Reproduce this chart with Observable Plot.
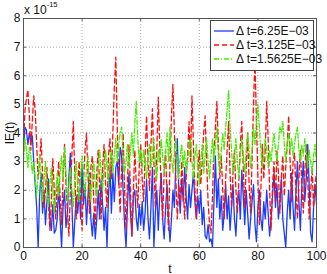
<!DOCTYPE html>
<html>
<head>
<meta charset="utf-8">
<script src="https://cdn.jsdelivr.net/npm/d3@7"></script>
<script src="https://cdn.jsdelivr.net/npm/@observablehq/plot@0.6"></script>
<style>
  html, body { margin: 0; padding: 0; background: #fff; }
  #wrap { position: relative; width: 327px; height: 274px; font-family: "Liberation Sans", Arial, sans-serif; }
  #exp { position: absolute; left: 24px; top: 2px; font-size: 12px; color: #111; white-space: nowrap; }
  #exp sup { font-size: 7.5px; position: relative; top: -2px; }
  #legend { position: absolute; left: 210px; top: 20px; width: 102px; height: 49px; border: 1px solid #444; background: #fff; font-size: 12px; color: #111; }
  .row { position: absolute; left: 2px; height: 14px; display: flex; align-items: center; white-space: nowrap; }
  .row svg { margin-right: 1px; }
</style>
</head>
<body>
<div id="wrap">
  <div id="chart"></div>
  <div id="exp">x 10<sup>-15</sup></div>
  <div id="legend"></div>
</div>
<script>
const t0 = 0, dt = 0.5;
const seriesNames = ["\u0394 t=6.25E\u221203", "\u0394 t=3.125E\u221203", "\u0394 t=1.5625E\u221203"];
const blue = [
  3.5,4.2,4.1,3.6,4.0,3.7,3.9,3.0,2.2,1.4,0.0,1.8,2.6,1.2,2.0,0.8,1.6,2.4,1.0,0.6,
  1.5,0.5,0.6,1.0,2.2,1.0,0.0,1.4,2.0,0.7,1.2,2.5,3.3,1.6,0.0,0.9,1.8,1.2,2.0,1.0,
  2.9,1.5,2.2,0.8,1.8,2.6,1.0,0.4,1.2,0.3,1.0,2.0,1.0,2.4,1.5,0.6,1.4,0.0,1.8,2.8,
  1.2,2.6,1.6,2.8,3.0,2.2,3.5,3.2,2.0,0.8,0.0,1.5,2.6,1.2,0.4,1.8,2.0,1.0,0.6,1.5,
  0.8,1.6,0.6,1.2,2.4,1.0,0.3,1.4,2.8,0.0,1.2,2.0,0.6,1.8,2.6,1.0,0.3,1.4,2.2,1.0,
  0.2,1.0,2.0,1.4,3.0,3.8,2.0,1.2,2.4,1.6,2.8,1.8,1.0,2.2,1.4,2.0,2.6,1.6,1.0,1.8,
  1.2,2.0,0.8,1.4,0.4,0.3,0.8,0.2,0.3,0.0,1.6,3.2,1.4,2.4,1.0,1.8,0.6,1.2,2.2,1.0,
  1.8,0.6,1.4,2.2,1.0,0.4,1.6,2.0,1.0,2.7,1.8,0.8,2.0,1.2,0.3,1.0,1.6,2.2,0.8,0.2,
  1.4,2.0,1.0,0.6,1.6,1.0,2.0,1.2,0.4,1.0,1.8,2.6,1.4,2.2,1.0,1.6,2.4,1.0,0.5,0.0,
  1.2,2.0,1.0,2.6,1.4,0.6,2.0,3.0,1.6,0.6,2.2,3.0,1.6,2.4,3.6,2.2,0.5,0.2,1.4,2.2,1.5
];
const red = [
  3.6,4.8,5.2,5.5,4.6,3.4,4.4,5.3,4.8,3.6,2.4,3.0,3.8,2.6,1.4,2.0,2.8,1.6,0.6,1.6,
  3.1,2.0,1.0,2.2,3.0,1.8,0.8,2.4,3.6,2.2,1.2,0.4,2.0,3.2,4.4,2.6,1.0,2.2,3.0,1.6,
  0.6,2.4,3.4,4.0,2.6,1.2,2.8,3.2,1.6,0.8,2.6,3.4,2.0,1.0,2.8,3.6,2.2,1.4,3.2,3.8,
  2.4,4.0,5.6,6.65,4.2,2.4,1.2,2.8,4.0,2.0,0.6,2.4,3.6,2.0,0.4,2.0,3.4,2.2,1.4,2.8,
  3.6,2.4,1.6,3.2,4.6,3.0,2.0,3.6,4.85,3.0,1.4,3.4,5.25,3.6,2.0,1.0,2.6,3.4,1.6,0.6,
  3.0,4.6,5.7,4.0,2.4,1.0,2.2,1.6,3.0,2.0,1.0,2.4,3.2,4.4,3.0,5.3,3.6,2.0,1.0,2.6,
  3.4,2.2,3.0,4.0,4.6,3.0,1.6,0.8,0.5,1.8,3.4,4.2,5.1,3.6,2.4,3.2,2.0,1.0,2.4,3.4,
  4.4,2.6,1.4,2.6,3.4,2.0,1.2,2.3,3.6,4.4,2.8,1.4,2.8,4.0,2.2,1.2,3.0,5.0,6.6,4.4,
  2.4,0.8,2.0,3.6,2.4,3.4,5.1,3.8,2.0,0.6,2.2,3.0,1.6,3.4,2.6,1.2,2.4,3.2,1.8,2.8,
  3.6,4.6,3.0,1.6,3.0,3.3,2.0,1.0,2.4,3.4,2.2,1.2,2.6,3.6,2.4,1.0,1.9,2.8,1.4,2.2,2.6
];
const green = [
  3.0,3.8,3.4,2.8,3.5,3.2,2.6,3.0,2.4,1.8,2.6,3.2,2.2,1.6,2.4,3.0,2.0,1.4,2.2,2.8,
  2.0,1.2,2.0,2.6,1.8,2.6,3.2,2.4,3.5,2.6,1.6,2.2,2.8,2.0,1.4,2.4,3.0,2.2,1.6,2.6,
  3.2,2.4,1.8,2.8,3.2,2.4,1.6,2.6,3.0,2.2,1.8,2.8,3.4,2.6,2.0,2.8,3.4,2.8,2.2,3.0,
  3.4,2.6,3.2,3.8,3.0,3.6,4.0,4.2,3.2,2.6,3.0,3.6,2.8,3.4,4.0,3.2,4.4,5.1,3.8,3.0,
  3.4,2.8,3.4,3.0,2.4,3.2,3.6,2.8,3.2,3.8,3.0,2.4,3.4,3.0,3.8,3.2,2.6,3.4,4.0,3.0,
  4.2,3.2,2.6,3.4,3.8,3.0,2.4,3.2,3.6,2.8,3.4,2.6,3.0,3.6,3.8,3.0,2.4,3.2,3.6,2.8,
  2.2,3.0,3.6,2.6,3.2,3.8,3.0,2.4,3.2,3.8,3.0,3.6,4.2,3.2,2.6,3.4,4.0,3.4,4.2,4.8,
  5.5,4.2,3.4,2.6,3.2,3.8,3.0,2.4,3.2,3.8,3.2,2.6,3.4,4.0,3.4,2.8,3.4,4.2,3.6,4.4,
  5.0,4.2,3.4,2.8,3.2,3.8,3.4,2.8,3.4,3.0,3.6,4.0,3.4,3.0,3.6,4.2,4.0,4.4,3.6,3.0,
  3.6,4.0,3.4,3.8,3.2,3.6,4.0,4.2,3.4,3.0,3.6,3.2,3.8,3.4,2.8,3.4,3.0,2.6,3.2,3.6,3.0
];
const xTicks = [0, 20, 40, 60, 80, 100];
const yTicks = [0, 1, 2, 3, 4, 5, 6, 7, 8];
const colors = ["#1a3cff", "#ff1010", "#44ee00"];
const dashes = [null, "5,3", "5,2,1,2"];

const toRows = (arr, k) => arr.map((v, i) => ({t: t0 + i * dt, v, s: seriesNames[k]}));
const rows = [toRows(blue, 0), toRows(red, 1), toRows(green, 2)];

const lines = rows.map((r, k) => Plot.line(r, {
  x: "t", y: "v", stroke: colors[k], strokeWidth: 1.3,
  strokeDasharray: dashes[k] || undefined
}));

const chart = Plot.plot({
  width: 327, height: 274,
  marginLeft: 23, marginRight: 11, marginTop: 18, marginBottom: 27,
  style: {fontFamily: "Liberation Sans, Arial, sans-serif", fontSize: "12px", color: "#111", background: "#fff"},
  x: {domain: [0, 100]},
  y: {domain: [0, 8]},
  marks: [
    Plot.gridX(xTicks.slice(1, -1), {stroke: "#aaa", strokeOpacity: 1, strokeDasharray: "1,2"}),
    Plot.gridY(yTicks.slice(1, -1), {stroke: "#aaa", strokeOpacity: 1, strokeDasharray: "1,2"}),
    ...lines,
    Plot.ruleX(xTicks, {y1: 0, y2: 0.1, stroke: "#555"}),
    Plot.ruleX(xTicks, {y1: 7.9, y2: 8, stroke: "#555"}),
    Plot.ruleY(yTicks, {x1: 0, x2: 1, stroke: "#555"}),
    Plot.ruleY(yTicks, {x1: 99, x2: 100, stroke: "#555"}),
    Plot.frame({stroke: "#555"}),
    Plot.axisX(xTicks, {tickSize: 0, tickPadding: 4, label: "t", labelAnchor: "center", labelArrow: "none", labelOffset: 25}),
    Plot.axisY(yTicks, {tickSize: 0, tickPadding: 3, label: "IE(t)", labelAnchor: "center", labelArrow: "none", labelOffset: 18})
  ]
});
document.getElementById("chart").appendChild(chart);

const legend = document.getElementById("legend");
seriesNames.forEach((name, k) => {
  const row = document.createElement("div");
  row.className = "row";
  row.style.top = (3 + k * 14) + "px";
  row.innerHTML = `<svg width="22" height="6"><line x1="1" y1="3" x2="21" y2="3" stroke="${colors[k]}" stroke-width="1.3" ${dashes[k] ? `stroke-dasharray="${dashes[k]}"` : ""}/></svg><span>${name}</span>`;
  legend.appendChild(row);
});
</script>
</body>
</html>
